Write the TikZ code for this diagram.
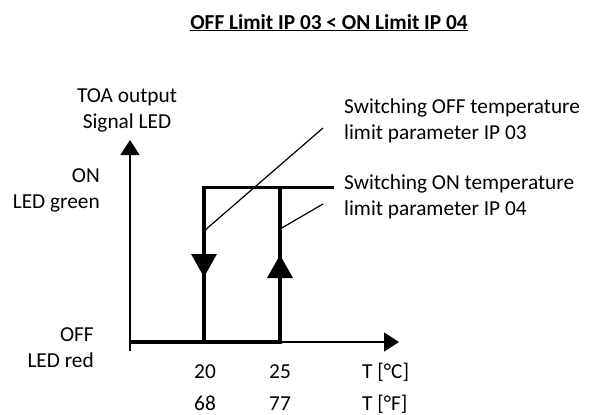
\documentclass[tikz,border=0pt]{standalone}
\usepackage{fontspec}
\setmainfont{Carlito}
\usetikzlibrary{arrows.meta,positioning}

\begin{document}
\begin{tikzpicture}[
    x=1bp, y=-1bp,
    every node/.style={inner sep=0pt, font=\fontsize{21.4}{25.5}\selectfont},
    axis/.style={line width=1.3bp, -{Triangle[length=15bp, width=19bp]}},
    hyst/.style={line width=3.2bp},
    leader/.style={line width=1.2bp},
    txtleft/.style={align=left, anchor=base west},
    txtright/.style={align=right, anchor=base east}
]
    \useasboundingbox (0,0) rectangle (595,414);

    % title
    \node[font=\fontsize{21.4}{25.5}\selectfont\bfseries, anchor=base] (title) at (329,29)
        {\underline{OFF Limit IP 03 < ON Limit IP 04}};

    % axes
    \coordinate (O) at (130,342);
    \coordinate (ybot) at (130,351);
    \coordinate (ytip) at (130,140);
    \coordinate (xtip) at (399,342);
    \draw[axis] (ybot) -- (ytip);
    \draw[axis] (O) -- (xtip);

    % hysteresis loop
    \coordinate (offbot) at (204,342);
    \coordinate (onbot) at (280,342);
    \coordinate (offtop) at (204,187.5);
    \coordinate (ontop) at (280,187.5);
    \coordinate (topend) at (334,187.5);
    \draw[hyst] (O) -- (onbot) -- (ontop);
    \draw[hyst] (offbot) -- (offtop) -- (topend);
    \fill (191,254) -- ++(26,0) -- ++(-13,23) -- cycle;
    \fill (267,278) -- ++(26,0) -- ++(-13,-23) -- cycle;

    % labels (base = last line)
    \node[align=center, anchor=base] (yname) at (127,128) {TOA output\\Signal LED};
    \node[txtright] (onlbl) at (100,208) {ON\\LED green};
    \node[txtright] (offlbl) at (94,367) {OFF\\LED red};
    \node[anchor=base] (c20) at (205,378) {20};
    \node[anchor=base] (c25) at (280,378) {25};
    \node[anchor=base] (f68) at (205,410) {68};
    \node[anchor=base] (f77) at (280,410) {77};
    \node[txtleft] (unitc) at (362,378) {T [°C]};
    \node[txtleft] (unitf) at (362,410) {T [°F]};
    \node[txtleft] (offpar) at (344,139) {Switching OFF temperature\\limit parameter IP 03};
    \node[txtleft] (onpar) at (344,215) {Switching ON temperature\\limit parameter IP 04};

    % leaders
    \coordinate (offlead) at (323,128);
    \coordinate (onlead) at (323,204);
    \draw[leader] (204,231) -- (offlead);
    \draw[leader] (280,229) -- (onlead);
\end{tikzpicture}
\end{document}
